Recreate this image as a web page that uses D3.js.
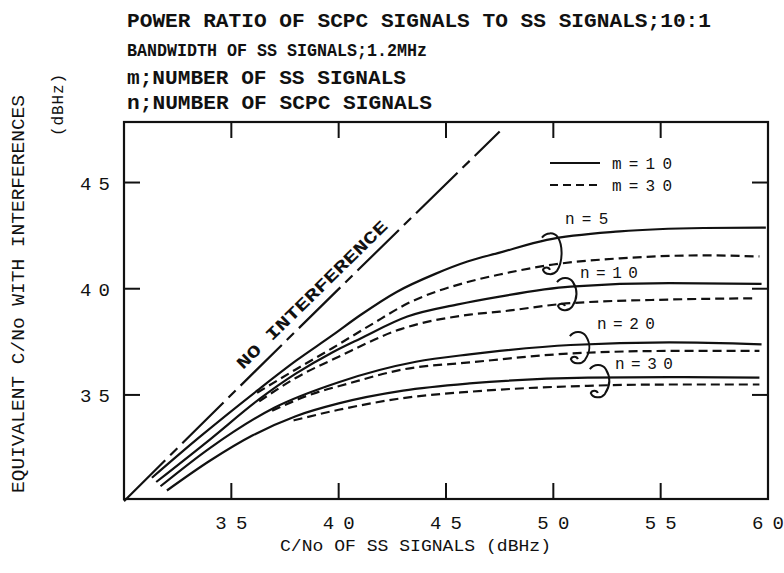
<!DOCTYPE html>
<html lang="en">
<head>
<meta charset="UTF-8">
<title>Equivalent C/No</title>
<style>
  body { margin: 0; background: #fff; }
  svg { display: block; }
</style>
</head>
<body>
<script src="https://cdn.jsdelivr.net/npm/d3@7/dist/d3.min.js"></script>
<script>
// tick values
var xTicks = [35, 40, 45, 50, 55, 60];
var yTicks = [35, 40, 45];

// no interference line (C/No equivalent = C/No of SS)
var noInterference = [[30, 30], [38, 38], [47.5, 47.4]];

// m = 10 (solid) and m = 30 (dashed), per number of SCPC signals n
var m10_n5 = [[31.3, 31.1], [33.5, 33.0], [36.2, 35.2], [38, 36.6], [39.7, 37.8], [41, 38.75], [42.7, 39.85], [44.5, 40.7], [46, 41.28], [47.5, 41.7], [49.7, 42.3], [53.1, 42.7], [57, 42.86], [59.9, 42.88]];
var m30_n5 = [[36.2, 35.1], [38, 36.2], [39.7, 37.2], [41.5, 38.3], [43.2, 39.3], [46.1, 40.34], [47.5, 40.67], [50, 41.14], [53.1, 41.43], [57, 41.57], [59.6, 41.52]];
var m10_n10 = [[31.5, 30.9], [34, 32.9], [36.3, 34.8], [38, 36.0], [39.7, 37.0], [41, 37.65], [43.2, 38.69], [45.5, 39.25], [47.5, 39.63], [50.8, 40.1], [55.4, 40.26], [59.7, 40.23]];
var m30_n10 = [[36.3, 34.7], [38, 35.8], [40, 36.8], [42.9, 38.1], [46.1, 38.78], [47.5, 38.92], [50.8, 39.32], [55.4, 39.49], [59.3, 39.55]];
var m10_n20 = [[31.7, 30.7], [34, 32.5], [37, 34.4], [40, 35.6], [43.6, 36.56], [46.1, 36.91], [47.5, 37.07], [50.8, 37.35], [55.4, 37.47], [59.7, 37.38]];
var m30_n20 = [[36.9, 34.25], [38.5, 34.95], [40.5, 35.55], [43, 36.2], [46.1, 36.53], [50.8, 36.95], [55.4, 37.07], [59.6, 37.07]];
var m10_n30 = [[32, 30.5], [34, 31.9], [36, 33.1], [38, 34.0], [40, 34.6], [43, 35.2], [46.1, 35.54], [51.6, 35.81], [55.4, 35.84], [59.6, 35.81]];
var m30_n30 = [[37.9, 33.8], [40, 34.3], [43, 34.85], [46.1, 35.15], [51.6, 35.43], [55.4, 35.49], [59.6, 35.49]];

// n labels and brackets: [x, top y, bottom y] / [x, baseline y]
var nNames = ['n=5', 'n=10', 'n=20', 'n=30'];
var bracketPos = [[49.47, 42.6, 40.7], [50.17, 40.5, 39.0], [50.77, 37.96, 36.5], [51.7, 36.4, 34.9]];
var labelPos = [[50.54, 43.05], [51.24, 40.5], [52.03, 38.1], [52.87, 36.2]];

var legendNames = ['m=10', 'm=30'];
var titleLines = ['POWER RATIO OF SCPC SIGNALS TO SS SIGNALS;10:1', 'BANDWIDTH OF SS SIGNALS;1.2MHz', 'm;NUMBER OF SS SIGNALS', 'n;NUMBER OF SCPC SIGNALS'];

var W = 784, H = 573;
var svg = d3.select('body').append('svg').attr('width', W).attr('height', H);

var x = d3.scaleLinear().domain([30, 60]).range([124, 768]);
var y = d3.scaleLinear().domain([30.1, 47.85]).range([499, 122]);

var ink = '#111';
var mono = "'Liberation Mono', 'DejaVu Sans Mono', monospace";

// titles
var tWidth = [584, 300, 279, 305];
var tBase = [27, 56, 84, 109];
svg.selectAll('.title').data(titleLines).enter().append('text')
    .attr('x', 127).attr('y', function (d, i) { return tBase[i]; })
    .attr('textLength', function (d, i) { return tWidth[i]; })
    .attr('lengthAdjust', 'spacingAndGlyphs')
    .attr('font-family', mono).attr('font-weight', 'bold')
    .attr('font-size', function (d, i) { return i == 1 ? 18 : 20; })
    .attr('fill', ink).text(function (d) { return d; });

// frame
svg.append('rect').attr('x', x(30)).attr('y', y(47.85)).attr('width', x(60) - x(30)).attr('height', y(30.1) - y(47.85))
    .attr('fill', 'none').attr('stroke', ink).attr('stroke-width', 2.2);

// inward ticks
var inner = xTicks.filter(function (d) { return d < 60; });
var tk = 16;
svg.selectAll('.xtb').data(inner).enter().append('line')
    .attr('x1', x).attr('x2', x).attr('y1', y(30.1)).attr('y2', y(30.1) - tk)
    .attr('stroke', ink).attr('stroke-width', 2);
svg.selectAll('.xtt').data(inner).enter().append('line')
    .attr('x1', x).attr('x2', x).attr('y1', y(47.85)).attr('y2', y(47.85) + tk)
    .attr('stroke', ink).attr('stroke-width', 2);
svg.selectAll('.ytl').data(yTicks).enter().append('line')
    .attr('y1', y).attr('y2', y).attr('x1', x(30)).attr('x2', x(30) + tk)
    .attr('stroke', ink).attr('stroke-width', 2);
svg.selectAll('.ytr').data(yTicks).enter().append('line')
    .attr('y1', y).attr('y2', y).attr('x1', x(60)).attr('x2', x(60) - tk)
    .attr('stroke', ink).attr('stroke-width', 2);

// tick labels
svg.selectAll('.xl').data(xTicks).enter().append('text')
    .attr('x', function (d) { return x(d) - 16; }).attr('y', 529)
    .attr('textLength', 32).attr('lengthAdjust', 'spacing')
    .attr('font-family', mono).attr('font-size', 19).attr('fill', ink)
    .text(function (d) { return d; });
svg.selectAll('.yl').data(yTicks).enter().append('text')
    .attr('x', 80).attr('y', function (d) { return y(d) + 7; })
    .attr('textLength', 30).attr('lengthAdjust', 'spacing')
    .attr('font-family', mono).attr('font-size', 19).attr('fill', ink)
    .text(function (d) { return d; });

// axis titles
svg.append('text').attr('x', 280).attr('y', 551)
    .attr('textLength', 271).attr('lengthAdjust', 'spacingAndGlyphs')
    .attr('font-family', mono).attr('font-size', 17).attr('fill', ink)
    .text('C/No OF SS SIGNALS (dBHz)');
svg.append('text').attr('transform', 'translate(24,493) rotate(-90)')
    .attr('textLength', 398).attr('lengthAdjust', 'spacingAndGlyphs')
    .attr('font-family', mono).attr('font-size', 18).attr('fill', ink)
    .text('EQUIVALENT C/No WITH INTERFERENCES');
svg.append('text').attr('transform', 'translate(63,136) rotate(-90)')
    .attr('textLength', 62).attr('lengthAdjust', 'spacing')
    .attr('font-family', mono).attr('font-size', 16).attr('fill', ink)
    .text('(dBHz)');

// curves
var line = d3.line().x(function (d) { return x(d[0]); }).y(function (d) { return y(d[1]); }).curve(d3.curveMonotoneX);
var curves = [
    { d: m10_n5, dash: null }, { d: m30_n5, dash: '9,5' },
    { d: m10_n10, dash: null }, { d: m30_n10, dash: '9,5' },
    { d: m10_n20, dash: null }, { d: m30_n20, dash: '9,5' },
    { d: m10_n30, dash: null }, { d: m30_n30, dash: '9,5' }
];
svg.selectAll('.curve').data(curves).enter().append('path')
    .attr('d', function (c) { return line(c.d); })
    .attr('fill', 'none').attr('stroke', ink).attr('stroke-width', 2.2)
    .attr('stroke-dasharray', function (c) { return c.dash; });

svg.append('path').attr('d', line(noInterference))
    .attr('fill', 'none').attr('stroke', ink).attr('stroke-width', 2.2)
    .attr('stroke-dasharray', '58,7,10,7');

// NO INTERFERENCE label along the line
var a0 = [35.54, 36.17], a1 = [42.39, 42.95];
var ang = Math.atan2(y(a1[1]) - y(a0[1]), x(a1[0]) - x(a0[0])) * 180 / Math.PI;
svg.append('text').attr('transform', 'translate(' + x(a0[0]) + ',' + y(a0[1]) + ') rotate(' + ang + ')')
    .attr('textLength', 204).attr('lengthAdjust', 'spacingAndGlyphs')
    .attr('font-family', mono).attr('font-weight', 'bold').attr('font-size', 17).attr('fill', ink)
    .text('NO INTERFERENCE');

// brackets
svg.selectAll('.br').data(bracketPos).enter().append('path')
    .attr('d', function (b) {
        var x0 = x(b[0]), y1 = y(b[1]), y2 = y(b[2]);
        return 'M' + x0 + ',' + (y1 + 4) +
            'C' + (x0 + 4) + ',' + (y1 - 1) + ' ' + (x0 + 12) + ',' + (y1 - 2) + ' ' + (x0 + 16) + ',' + (y1 + 4) +
            'C' + (x0 + 21) + ',' + (y1 + 12) + ' ' + (x0 + 21) + ',' + (y2 - 12) + ' ' + (x0 + 15) + ',' + (y2 - 3) +
            'C' + (x0 + 11) + ',' + (y2 + 2) + ' ' + (x0 + 3) + ',' + (y2 + 1) + ' ' + (x0 + 1) + ',' + (y2 - 4) +
            'C' + (x0 + 2) + ',' + (y2 - 7) + ' ' + (x0 + 7) + ',' + (y2 - 7) + ' ' + (x0 + 8) + ',' + (y2 - 4);
    })
    .attr('fill', 'none').attr('stroke', ink).attr('stroke-width', 2);

svg.selectAll('.nl').data(nNames).enter().append('text')
    .attr('x', function (d, i) { return x(labelPos[i][0]); })
    .attr('y', function (d, i) { return y(labelPos[i][1]); })
    .attr('textLength', function (d) { return d.length * 14.5; }).attr('lengthAdjust', 'spacing')
    .attr('font-family', mono).attr('font-size', 16).attr('fill', ink)
    .text(function (d) { return d; });

// legend
var legY = [163, 185];
svg.selectAll('.legl').data(legendNames).enter().append('line')
    .attr('x1', 550).attr('x2', 600).attr('y1', function (d, i) { return legY[i]; }).attr('y2', function (d, i) { return legY[i]; })
    .attr('stroke', ink).attr('stroke-width', 2)
    .attr('stroke-dasharray', function (d, i) { return i ? '8,5' : null; });
svg.selectAll('.legt').data(legendNames).enter().append('text')
    .attr('x', 612).attr('y', function (d, i) { return legY[i] + 6; })
    .attr('textLength', 60).attr('lengthAdjust', 'spacing')
    .attr('font-family', mono).attr('font-size', 16).attr('fill', ink)
    .text(function (d) { return d; });
</script>
</body>
</html>
